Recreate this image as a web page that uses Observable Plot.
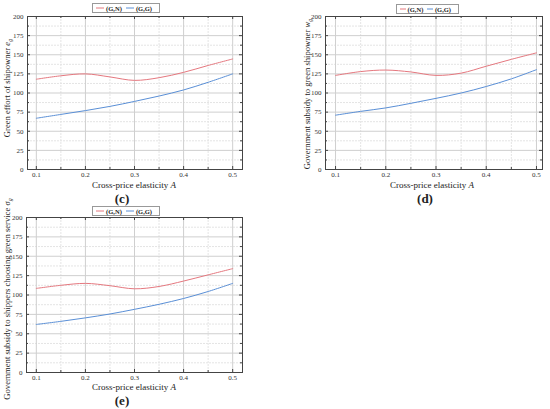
<!DOCTYPE html>
<html>
<head>
<meta charset="utf-8">
<script src="https://cdn.jsdelivr.net/npm/d3@7"></script>
<script src="https://cdn.jsdelivr.net/npm/@observablehq/plot@0.6"></script>
<style>
  html, body { margin: 0; padding: 0; background: #fff; }
  #root { position: relative; width: 550px; height: 409px; overflow: hidden; background: #fff; font-family: "Liberation Serif", "DejaVu Serif", serif; color: #222; }
  .abs { position: absolute; }
  .xlab { font-size: 9px; line-height: 9px; white-space: nowrap; transform: translate(-50%, -50%); }
  .ylab { font-size: 8.6px; line-height: 9px; white-space: nowrap; transform: translate(-50%, -50%) rotate(-90deg); }
  .ylab sub { font-size: 6px; line-height: 0; }
  .cap { font-size: 13px; line-height: 13px; font-weight: bold; transform: translate(-50%, -50%); }
  .legend { border: 1px solid #999; background: #fff; display: flex; align-items: center; font-size: 6.5px; font-weight: bold; padding: 0 3px; box-sizing: border-box; }
  .legend svg { margin: 0 2px 0 0; }
  .legend span { margin-right: 4px; }
</style>
</head>
<body>
<div id="root"></div>
<script>
// ---- data ----
const elasticity = [0.1, 0.15, 0.2, 0.25, 0.3, 0.35, 0.4, 0.45, 0.5];
const seriesNames = ["(G,N)", "(G,G)"];
const c_GN = [118, 122.5, 125, 121, 116.5, 120, 127, 136, 144.5];
const c_GG = [67, 72, 77, 82.5, 89, 96, 104, 114, 125];
const d_GN = [123, 128, 130, 127.5, 123, 126, 135, 144, 152.5];
const d_GG = [71, 76, 80.5, 86.5, 93, 100, 108.5, 118.5, 130.5];
const e_GN = [108.5, 112.5, 115, 112, 108, 111, 118, 126, 134];
const e_GG = [62, 66, 70.5, 75.5, 81.5, 88, 95.5, 104.5, 115];
const xTicks = [0.1, 0.2, 0.3, 0.4, 0.5];
const xMinor = [0.15, 0.25, 0.35, 0.45];
const yTicks = [0, 25, 50, 75, 100, 125, 150, 175, 200];
const yMinor = [12.5, 37.5, 62.5, 87.5, 112.5, 137.5, 162.5, 187.5];
const xLabel = "Cross-price elasticity <i>A</i>";
const yLabels = {
  c: "Green effort of shipowner <i>e<sub>g</sub></i>",
  d: "Government subsidy to green shipowner <i>w<sub>g</sub></i>",
  e: "Government subsidy to shippers choosing green service <i>σ<sub>g</sub></i>"
};
const colors = ["#e5787f", "#5a8fd6"];

const root = document.getElementById("root");

function panel(p) {
  const data = [];
  elasticity.forEach((x, i) => {
    data.push({x, y: p.gn[i], s: seriesNames[0]});
    data.push({x, y: p.gg[i], s: seriesNames[1]});
  });
  const innerW = p.width - p.ml - p.mr;
  const innerH = p.height - p.mt - p.mb;
  const chart = Plot.plot({
    width: p.width, height: p.height,
    marginLeft: p.ml, marginRight: p.mr, marginTop: p.mt, marginBottom: p.mb,
    style: {fontFamily: "Liberation Serif", fontSize: "7px", background: "transparent", color: "#333"},
    x: {domain: p.xdom},
    y: {domain: [0, 200]},
    color: {domain: seriesNames, range: colors},
    marks: [
      Plot.gridX(xMinor, {stroke: "#e4e4e4", strokeOpacity: 1, strokeDasharray: "2,1"}),
      Plot.gridY(yMinor, {stroke: "#e4e4e4", strokeOpacity: 1, strokeDasharray: "2,1"}),
      Plot.gridX(xTicks, {stroke: "#cfcfcf", strokeOpacity: 1}),
      Plot.gridY(yTicks, {stroke: "#cfcfcf", strokeOpacity: 1}),
      // inward ticks on all four sides
      Plot.tickX(xTicks, {x: d => d, insetTop: innerH - 3, stroke: "#444"}),
      Plot.tickX(xTicks, {x: d => d, insetBottom: innerH - 3, stroke: "#444"}),
      Plot.tickX(xMinor, {x: d => d, insetTop: innerH - 2, stroke: "#444"}),
      Plot.tickX(xMinor, {x: d => d, insetBottom: innerH - 2, stroke: "#444"}),
      Plot.tickY(yTicks, {y: d => d, insetRight: innerW - 3, stroke: "#444"}),
      Plot.tickY(yTicks, {y: d => d, insetLeft: innerW - 3, stroke: "#444"}),
      Plot.tickY(yMinor, {y: d => d, insetRight: innerW - 2, stroke: "#444"}),
      Plot.tickY(yMinor, {y: d => d, insetLeft: innerW - 2, stroke: "#444"}),
      Plot.axisX(xTicks, {tickSize: 0, tickPadding: 3, tickFormat: d3.format(".1f"), label: null}),
      Plot.axisY(yTicks, {tickSize: 0, tickPadding: 4, label: null}),
      Plot.line(data, {x: "x", y: "y", z: "s", stroke: "s", strokeWidth: 1, curve: "catmull-rom"}),
      Plot.frame({stroke: "#444", strokeWidth: 1})
    ]
  });
  chart.classList.add("abs");
  chart.style.left = p.left + "px";
  chart.style.top = p.top + "px";
  root.appendChild(chart);

  // legend
  const lg = document.createElement("div");
  lg.className = "abs legend";
  lg.style.left = p.legend[0] + "px";
  lg.style.top = p.legend[1] + "px";
  lg.style.width = p.legend[2] + "px";
  lg.style.height = p.legend[3] + "px";
  lg.innerHTML = seriesNames.map((n, i) =>
    `<svg width="18" height="4"><line x1="0" y1="2" x2="18" y2="2" stroke="${colors[i]}" stroke-width="1"/></svg><span>${n}</span>`
  ).join("");
  root.appendChild(lg);

  const xl = document.createElement("div");
  xl.className = "abs xlab";
  xl.style.left = p.xlab[0] + "px";
  xl.style.top = p.xlab[1] + "px";
  xl.innerHTML = xLabel;
  root.appendChild(xl);

  const yl = document.createElement("div");
  yl.className = "abs ylab";
  yl.style.left = p.ylab[0] + "px";
  yl.style.top = p.ylab[1] + "px";
  yl.innerHTML = p.ytext;
  root.appendChild(yl);

  const cp = document.createElement("div");
  cp.className = "abs cap";
  cp.style.left = p.cap[0] + "px";
  cp.style.top = p.cap[1] + "px";
  cp.textContent = p.captext;
  root.appendChild(cp);
}

panel({left: 0, top: 0, width: 275, height: 210, ml: 27, mr: 33, mt: 16, mb: 41,
  xdom: [0.082, 0.52], gn: c_GN, gg: c_GG,
  legend: [92, 3, 68, 10], xlab: [134, 184.5], ylab: [7, 88], ytext: yLabels.c, cap: [122, 198], captext: "(c)"});
panel({left: 275, top: 0, width: 275, height: 210, ml: 50, mr: 8, mt: 16, mb: 41,
  xdom: [0.08, 0.512], gn: d_GN, gg: d_GG,
  legend: [396, 4, 63, 10], xlab: [432, 184.5], ylab: [307, 94], ytext: yLabels.d, cap: [425, 198], captext: "(d)"});
panel({left: 0, top: 200, width: 275, height: 209, ml: 26, mr: 33, mt: 17, mb: 37,
  xdom: [0.08, 0.52], gn: e_GN, gg: e_GG,
  legend: [92, 206, 68, 10], xlab: [134, 387], ylab: [7, 299], ytext: yLabels.e, cap: [122, 400], captext: "(e)"});
</script>
</body>
</html>
